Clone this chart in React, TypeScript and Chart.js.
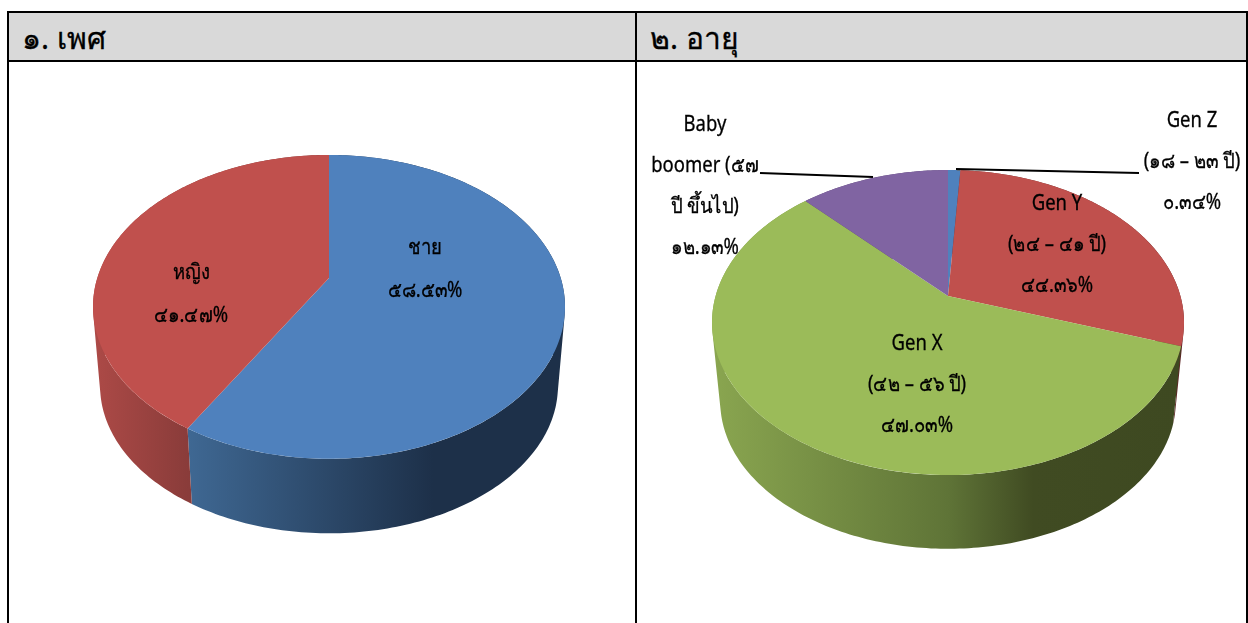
import React, { useEffect, useRef } from "react";
import { Chart, registerables } from "chart.js";

Chart.register(...registerables);

const genderLabels = ["ชาย", "หญิง"];
const genderValues = [58.53, 41.47];
const genderText = [["ชาย", "๕๘.๕๓%"], ["หญิง", "๔๑.๔๗%"]];
const genderColors = ["#4f81bd", "#c0504d"];

const ageLabels = ["Gen Z", "Gen Y", "Gen X", "Baby boomer"];
// Slice shares as drawn in the picture; the printed labels below differ from them.
const ageValues = [1.0, 29.2, 57.67, 12.13];
const ageText = [
  ["Gen Z", "(๑๘ – ๒๓ ปี)", "๐.๓๔%"],
  ["Gen Y", "(๒๔ – ๔๑ ปี)", "๔๔.๓๖%"],
  ["Gen X", "(๔๒ – ๕๖ ปี)", "๔๗.๐๓%"],
  ["Baby", "boomer (๕๗", "ปี ขึ้นไป)", "๑๒.๑๓%"],
];
const ageColors = ["#4f81bd", "#c0504d", "#9bbb59", "#8064a2"];

const FONT = '"Noto Sans", "DejaVu Sans", sans-serif';
const TEXT_SQUEEZE = 0.88;

type Proj = { cx: number; cy: number; A: number; B: number; k: number; depth: number; shrink: number };
type LabelPos = { x: number; y: number; lh: number; size: number };
type Cfg = {
  proj: Proj;
  text: string[][];
  pos: LabelPos[];
  leaders: number[][];
  stops: Record<string, [number, string][]>;
};

function pt(p: Proj, t: number, low: boolean) {
  const X = Math.cos(t), Y = Math.sin(t);
  const w = 1 - p.k * Y;
  const s = low ? p.shrink : 1;
  return {
    x: p.cx + (s * p.A * X) / w,
    y: p.cy + (low ? p.depth : 0) + (s * p.B * Y) / w,
  };
}

const pie3d = {
  id: "pie3d",
  beforeDatasetsDraw(chart: any, _a: any, opts: Cfg) {
    const { ctx } = chart;
    const p = opts.proj;
    const arcs = chart.getDatasetMeta(0).data;
    ctx.save();
    arcs.forEach((el: any) => {
      const col = el.options.backgroundColor;
      const a0 = el.startAngle, a1 = el.endAngle;
      const g = ctx.createLinearGradient(p.cx - p.A * 1.02, 0, p.cx + p.A * 1.02, 0);
      (opts.stops[col] || [[0, col], [1, col]]).forEach(([o, c]) => g.addColorStop(o, c));
      ctx.fillStyle = g;
      const n = Math.max(4, Math.ceil(((a1 - a0) / (2 * Math.PI)) * 360));
      // All quads go in one path with one winding, so no seams show between them.
      ctx.beginPath();
      for (let i = 0; i < n; i++) {
        const u = a0 + ((a1 - a0) * i) / n, v = a0 + ((a1 - a0) * (i + 1)) / n;
        let q = [pt(p, u, false), pt(p, v, false), pt(p, v, true), pt(p, u, true)];
        let area = 0;
        q.forEach((a, j) => {
          const b = q[(j + 1) % 4];
          area += a.x * b.y - b.x * a.y;
        });
        if (area < 0) q = q.reverse();
        q.forEach((a, j) => (j ? ctx.lineTo(a.x, a.y) : ctx.moveTo(a.x, a.y)));
        ctx.closePath();
      }
      ctx.fill();
    });
    const N = 180;
    arcs.forEach((el: any) => {
      const a0 = el.startAngle, a1 = el.endAngle;
      ctx.beginPath();
      ctx.moveTo(p.cx, p.cy);
      for (let i = 0; i <= N; i++) {
        const q = pt(p, a0 + ((a1 - a0) * i) / N, false);
        ctx.lineTo(q.x, q.y);
      }
      ctx.closePath();
      ctx.fillStyle = el.options.backgroundColor;
      ctx.fill();
    });
    ctx.restore();
    return false;
  },
  afterDraw(chart: any, _a: any, opts: Cfg) {
    const { ctx } = chart;
    ctx.save();
    ctx.strokeStyle = "#000";
    ctx.lineWidth = 2;
    opts.leaders.forEach((l) => {
      ctx.beginPath();
      ctx.moveTo(l[0], l[1]);
      ctx.lineTo(l[2], l[3]);
      ctx.stroke();
    });
    ctx.fillStyle = "#000";
    ctx.textAlign = "center";
    ctx.textBaseline = "middle";
    ctx.lineWidth = 0.3;
    opts.text.forEach((lines, i) => {
      const b = opts.pos[i];
      ctx.font = `${b.size}px ${FONT}`;
      lines.forEach((s, j) => {
        ctx.save();
        ctx.translate(b.x, b.y + j * b.lh);
        ctx.scale(TEXT_SQUEEZE, 1);
        ctx.fillText(s, 0, 0);
        ctx.strokeText(s, 0, 0);
        ctx.restore();
      });
    });
    ctx.restore();
  },
};

const OX1 = 11, OX2 = 638, OY = 63;

const blueStops: [number, string][] = [[0, "#4f81bd"], [0.2, "#3f6893"], [0.72, "#1d3049"], [1, "#1d3049"]];
const redStops: [number, string][] = [[0, "#ad4a47"], [0.2, "#8a3c3a"], [1, "#5c2625"]];
const greenStops: [number, string][] = [[0, "#8aa650"], [0.5, "#5f7437"], [0.68, "#404b22"], [1, "#3e4921"]];

const leftCfg: Cfg = {
  proj: { cx: 329 - OX1, cy: 278 - OY, A: 231.7, B: 146.4, k: 0.19, depth: 80, shrink: 0.97 },
  text: genderText,
  pos: [
    { x: 425 - OX1, y: 248 - OY, lh: 43, size: 21 },
    { x: 191 - OX1, y: 273 - OY, lh: 43, size: 21 },
  ],
  leaders: [],
  stops: { "#4f81bd": blueStops, "#c0504d": redStops },
};
const rightCfg: Cfg = {
  proj: { cx: 948 - OX2, cy: 296 - OY, A: 232.4, B: 147.9, k: 0.174, depth: 80, shrink: 0.965 },
  text: ageText,
  pos: [
    { x: 1192 - OX2, y: 121 - OY, lh: 41, size: 21 },
    { x: 1057 - OX2, y: 204 - OY, lh: 41, size: 21 },
    { x: 917 - OX2, y: 344 - OY, lh: 41, size: 21 },
    { x: 705 - OX2, y: 125 - OY, lh: 41, size: 21 },
  ],
  leaders: [
    [956 - OX2, 169 - OY, 1139 - OX2, 173 - OY],
    [760 - OX2, 173 - OY, 873 - OX2, 177 - OY],
  ],
  stops: { "#9bbb59": greenStops, "#c0504d": redStops, "#4f81bd": blueStops, "#8064a2": [[0, "#5a4672"], [1, "#5a4672"]] },
};

function Pie({ labels, values, colors, cfg, left, width }: any) {
  const ref = useRef<HTMLCanvasElement>(null);
  useEffect(() => {
    const chart = new Chart(ref.current!, {
      type: "pie",
      data: { labels, datasets: [{ data: values, backgroundColor: colors, borderWidth: 0 }] },
      plugins: [pie3d as any],
      options: {
        responsive: false,
        animation: false,
        events: [],
        layout: { padding: 0 },
        plugins: { legend: { display: false }, tooltip: { enabled: false }, pie3d: cfg } as any,
      },
    });
    return () => chart.destroy();
  }, []);
  return (
    <canvas
      ref={ref}
      width={width}
      height={560}
      style={{ position: "absolute", left, top: OY, width, height: 560, display: "block" }}
    />
  );
}

const line = "#000";
function Box(s: React.CSSProperties) {
  return <div style={{ position: "absolute", background: line, ...s }} />;
}

const head: React.CSSProperties = {
  position: "absolute",
  top: 18,
  fontSize: 30,
  fontWeight: 400,
  lineHeight: "40px",
  WebkitTextStroke: "0.3px #000",
};

export default function App() {
  return (
    <div style={{ position: "fixed", inset: 0, background: "#fff", overflow: "hidden", fontFamily: FONT }}>
      <div style={{ position: "absolute", left: 9, top: 12, width: 1238, height: 49, background: "#d9d9d9" }} />
      <Pie labels={genderLabels} values={genderValues} colors={genderColors} cfg={leftCfg} left={OX1} width={624} />
      <Pie labels={ageLabels} values={ageValues} colors={ageColors} cfg={rightCfg} left={OX2} width={608} />
      {Box({ left: 7, top: 11, width: 1241, height: 2 })}
      {Box({ left: 7, top: 60, width: 1241, height: 2 })}
      {Box({ left: 7, top: 11, width: 2, height: 612 })}
      {Box({ left: 635, top: 11, width: 2, height: 612 })}
      {Box({ left: 1246, top: 11, width: 2, height: 612 })}
      <div style={{ ...head, left: 22 }}>๑. เพศ</div>
      <div style={{ ...head, left: 650 }}>๒. อายุ</div>
    </div>
  );
}
